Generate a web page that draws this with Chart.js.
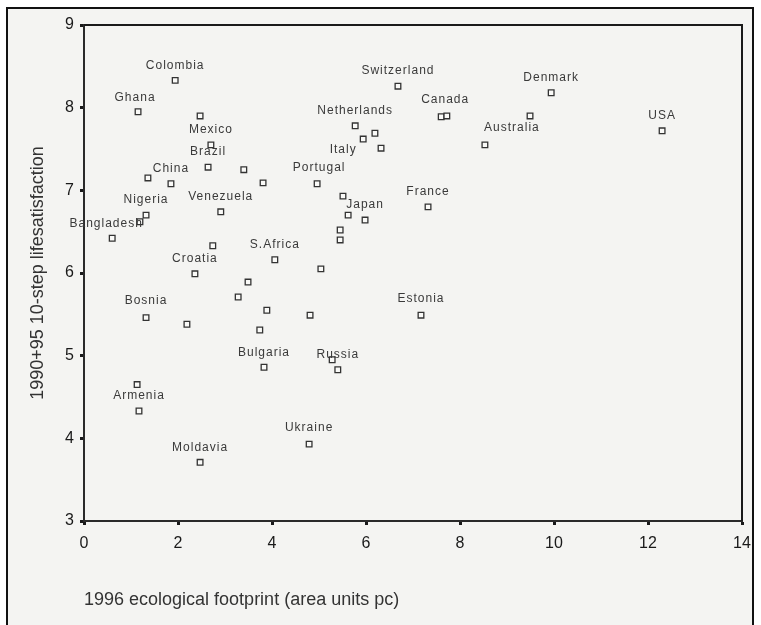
<!DOCTYPE html>
<html>
<head>
<meta charset="utf-8">
<script src="https://cdn.jsdelivr.net/npm/chart.js@4/dist/chart.umd.min.js"></script>
<style>
  html, body { margin: 0; padding: 0; background: #ffffff; }
  #frame {
    position: absolute; left: 6px; top: 7px; width: 744px; height: 640px;
    border: 2px solid #111; background: #f4f4f2;
  }
  #chart { position: absolute; left: 0; top: 0; }
</style>
</head>
<body>
<div id="frame"></div>
<canvas id="chart" width="761" height="625"></canvas>
<script>
// Country names ('' = unlabelled point)
const countries = [
  'Colombia', 'Ghana', '', 'Mexico', 'Brazil', 'China', '', '', '', 'Venezuela',
  'Nigeria', '', 'Bangladesh', '', 'Croatia', 'S.Africa', '', '', '', '',
  'Bosnia', '', 'Bulgaria', '', 'Armenia', 'Moldavia', 'Ukraine', 'Russia', '', '',
  '', 'Estonia', '', '', '', '', 'Japan', 'France', 'Portugal', 'Netherlands',
  'Italy', '', '', 'Switzerland', 'Canada', '', 'Australia', 'Denmark', '', 'USA'
];

// 1996 ecological footprint (area units per capita)
const footprint = [
  1.94, 1.15, 2.47, 2.70, 2.64, 1.85, 1.36, 3.40, 3.81, 2.91,
  1.32, 1.19, 0.60, 2.74, 2.36, 4.06, 3.49, 3.28, 3.89, 3.74,
  1.32, 2.19, 3.83, 1.13, 1.17, 2.47, 4.79, 5.40, 5.28, 4.81,
  5.04, 7.17, 5.45, 5.45, 5.51, 5.62, 5.98, 7.32, 4.96, 5.77,
  5.94, 6.19, 6.32, 6.68, 7.60, 7.72, 8.53, 9.94, 9.49, 12.30
];

// 1990+95 life satisfaction (10-step scale)
const satisfaction = [
  8.33, 7.95, 7.90, 7.55, 7.28, 7.08, 7.15, 7.25, 7.09, 6.74,
  6.70, 6.62, 6.42, 6.33, 5.99, 6.16, 5.89, 5.71, 5.55, 5.31,
  5.46, 5.38, 4.86, 4.65, 4.33, 3.71, 3.93, 4.83, 4.95, 5.49,
  6.05, 5.49, 6.40, 6.52, 6.93, 6.70, 6.64, 6.80, 7.08, 7.78,
  7.62, 7.69, 7.51, 8.26, 7.89, 7.90, 7.55, 8.18, 7.90, 7.72
];

const xTicks = [0, 2, 4, 6, 8, 10, 12, 14];
const yTicks = [3, 4, 5, 6, 7, 8, 9];

// Label placement relative to each marker (pixels); default sits just above
const labelShift = {
  'Ghana': [-3, -14],
  'Bangladesh': [-6, -15],
  'Italy': [-20, 11],
  'Canada': [4, -17],
  'Australia': [27, -17],
  'Portugal': [2, -16],
  'Bosnia': [0, -17],
  'Ukraine': [0, -16],
  'Estonia': [0, -16]
};

const points = footprint.map((x, i) => ({ x: x, y: satisfaction[i], name: countries[i] }));

const frameBox = {
  id: 'frameBox',
  afterDatasetsDraw(chart) {
    const { ctx, chartArea: a } = chart;
    ctx.save();
    ctx.strokeStyle = '#1a1a1a';
    ctx.lineWidth = 2;
    ctx.beginPath();
    ctx.moveTo(a.left, a.top);
    ctx.lineTo(a.right, a.top);
    ctx.lineTo(a.right, a.bottom);
    ctx.stroke();
    ctx.restore();
  }
};

const pointNames = {
  id: 'pointNames',
  afterDatasetsDraw(chart) {
    const { ctx } = chart;
    const meta = chart.getDatasetMeta(0);
    ctx.save();
    ctx.font = '12px "Liberation Sans", Arial, sans-serif';
    if ('letterSpacing' in ctx) ctx.letterSpacing = '1px';
    ctx.fillStyle = '#3a3a3a';
    ctx.textAlign = 'center';
    ctx.textBaseline = 'middle';
    meta.data.forEach((el, i) => {
      const name = countries[i];
      if (!name) return;
      const s = labelShift[name] || [0, -15];
      ctx.fillText(name, el.x + s[0], el.y + s[1]);
    });
    ctx.restore();
  }
};

const tickFont = { family: '"Liberation Sans", Arial, sans-serif', size: 16 };
const titleFont = { family: '"Liberation Sans", Arial, sans-serif', size: 18 };

new Chart(document.getElementById('chart'), {
  type: 'scatter',
  data: {
    datasets: [{
      data: points,
      pointStyle: 'rect',
      pointRadius: 4,
      pointHoverRadius: 4,
      borderWidth: 1.3,
      borderColor: '#333',
      backgroundColor: 'rgba(250,250,248,1)'
    }]
  },
  options: {
    responsive: false,
    animation: false,
    events: [],
    layout: { padding: { top: 25, right: 19, left: 0, bottom: 0 } },
    plugins: { legend: { display: false }, tooltip: { enabled: false } },
    scales: {
      x: {
        type: 'linear',
        min: 0, max: 14,
        afterFit(scale) { scale.height = 104; },
        afterBuildTicks(scale) { scale.ticks = xTicks.map(v => ({ value: v })); },
        grid: { drawOnChartArea: false, drawTicks: true, tickLength: 4, tickWidth: 3, tickColor: '#1a1a1a' },
        border: { display: true, color: '#2a2a2a', width: 2 },
        ticks: { padding: 9, color: '#1a1a1a', font: tickFont, maxRotation: 0 },
        title: {
          display: true,
          text: '1996 ecological footprint (area units pc)',
          align: 'start',
          color: '#333',
          font: titleFont,
          padding: { top: 0, bottom: 14 }
        }
      },
      y: {
        type: 'linear',
        min: 3, max: 9,
        afterFit(scale) { scale.width = 84; },
        afterBuildTicks(scale) { scale.ticks = yTicks.map(v => ({ value: v })); },
        grid: { drawOnChartArea: false, drawTicks: true, tickLength: 4, tickWidth: 3, tickColor: '#1a1a1a' },
        border: { display: true, color: '#2a2a2a', width: 2 },
        ticks: { padding: 6, color: '#1a1a1a', font: tickFont },
        title: {
          display: true,
          text: '1990+95 10-step lifesatisfaction',
          color: '#333',
          font: titleFont,
          padding: { top: 27, bottom: 0 }
        }
      }
    }
  },
  plugins: [frameBox, pointNames]
});
</script>
</body>
</html>
